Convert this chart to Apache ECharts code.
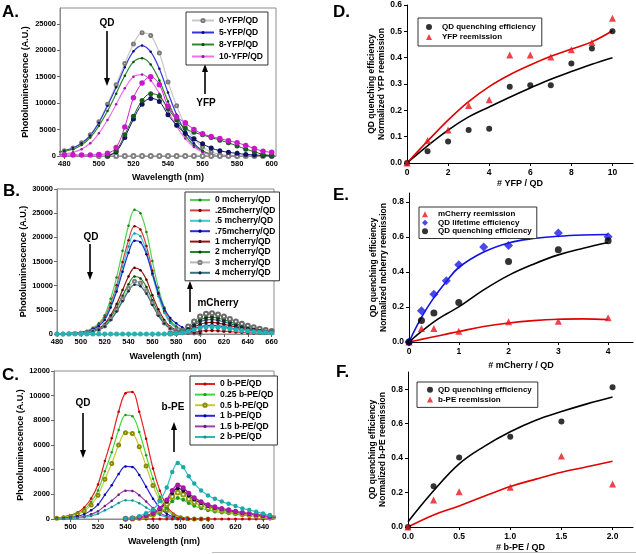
<!DOCTYPE html>
<html><head><meta charset="utf-8">
<script src="https://cdn.jsdelivr.net/npm/echarts@6/dist/echarts.min.js"></script>
<style>html,body{margin:0;padding:0;background:#fff}#c{width:636px;height:554px}</style>
</head><body><div id="c"></div>
<script>
// ---------- Panel A (YFP) ----------
const A_wl = [477,480,485,490,495,500,505,510,515,520,525,530,535,540,545,550,555,560,565,570,575,580,585,590,595,600];
const A_qd0 = [800,1000,1500,2500,4000,6500,9800,13500,17500,21200,23300,22800,19500,14000,9500,5800,3300,1700,800,300,100,0,null,null,null,null];
const A_qd5 = [800,1000,1500,2400,3900,6300,9500,13000,16800,19800,20900,19700,16500,12000,7800,4600,2400,1000,300,0,0,0,null,null,null,null];
const A_qd8 = [700,900,1300,2100,3500,5700,8500,11800,15200,17800,18500,17300,14300,10300,6700,3900,2000,900,300,0,0,0,null,null,null,null];
const A_qd10 = [300,400,700,1300,2400,4300,6800,9800,12800,15000,15400,14300,11800,8600,5600,3300,1700,700,200,0,0,0,null,null,null,null];
const A_yfp0 = [null,null,null,null,null,0,0,0,0,0,0,0,0,0,0,0,0,0,0,0,0,0,0,0,0,0];
const A_yfp5 = [null,null,null,null,null,null,0,800,3500,7000,9800,10900,10300,7800,5800,4300,3200,2300,1500,1000,700,500,300,200,100,0];
const A_yfp8 = [null,null,null,null,null,null,0,1000,4000,7500,10500,11800,11300,9000,6800,5200,4500,4000,3500,3000,2500,1900,1300,800,300,100];
const A_yfp10 = [300,200,200,200,200,300,500,1600,5500,11000,13800,15000,13500,9400,7400,6300,5000,4200,3700,3300,2900,2500,2000,1400,900,700];
const A_names = ['0-YFP/QD','5-YFP/QD','8-YFP/QD','10-YFP/QD'];
const A_xticks = [480,500,520,540,560,580,600];
const A_yticks = [0,5000,10000,15000,20000,25000];

// ---------- Panel B (mCherry) ----------
const B_wl = [480,485,490,495,500,505,510,515,520,525,530,535,540,545,550,555,560,565,570,575,580,585,590,595,600];
const B_q0 = [0,0,130,210,390,650,1300,2200,3900,7300,11700,17200,22400,25700,25000,21100,15100,9600,5500,2900,1600,1000,600,400,200];
const B_q25 = [0,0,110,180,340,560,1100,1900,3400,6300,10100,14900,19400,22300,21600,18200,13100,8300,4700,2500,1400,900,500,300,200];
const B_q50 = [0,0,100,170,320,530,1050,1800,3150,5900,9450,13900,18100,20800,20200,17000,12200,7800,4400,2300,1300,800,500,300,200];
const B_q75 = [0,0,100,160,290,490,980,1660,2900,5500,8800,12900,16800,19300,19000,16500,12500,8500,5300,3300,2200,1400,800,400,200];
const B_q1 = [0,0,70,110,210,350,690,1170,2070,3860,6210,9100,11900,13700,13200,11200,8000,5100,2900,1500,830,550,350,200,100];
const B_q2 = [0,0,60,100,180,300,600,1020,1800,3360,5400,7900,10300,11900,11500,9700,7000,4400,2500,1300,720,480,300,200,100];
const B_q3 = [0,0,55,90,165,275,550,935,1650,3080,4950,7260,9460,10900,10560,8900,6400,4070,2300,1200,660,440,300,200,100];
const B_q4 = [0,0,50,80,150,260,520,880,1550,2880,4640,6800,8860,10200,9900,8340,6000,3800,2160,1130,620,410,260,160,100];
const B_mwl = [575,580,585,590,595,600,605,610,615,620,625,630,635,640,645,650,655,660];
const B_m25 = [14,42,110,250,420,590,680,700,660,590,500,420,340,280,220,175,130,105];
const B_m75 = [36,110,290,650,1080,1510,1750,1800,1690,1510,1300,1080,880,720,580,450,340,270];
const B_m1 = [50,140,380,860,1440,2020,2330,2400,2260,2020,1730,1440,1180,960,770,600,460,360];
const B_m2 = [70,210,560,1260,2100,2940,3400,3500,3290,2940,2520,2100,1720,1400,1120,875,665,525];
const B_m3 = [90,260,690,1550,2580,3610,4170,4300,4040,3610,3100,2580,2110,1720,1380,1075,820,645];
const B_m4 = [60,180,480,1080,1800,2520,2910,3000,2820,2520,2160,1800,1470,1200,960,750,570,450];
const B_cwl = [480,485,490,495,500,505,510,515,520,525,530,535,540,545,550,555,560,565,570,575,580,585,590,595,600,605,610,615,620,625,630,635,640,645,650,655,660];
const B_m50 = [0,0,0,0,0,0,0,0,0,0,0,0,0,0,0,0,0,0,0,30,90,240,540,900,1260,1460,1500,1410,1260,1080,900,735,600,480,375,285,225];
const B_names = ['0 mcherry/QD','.25mcherry/QD','.5 mcherry/QD','.75mcherry/QD','1 mcherry/QD','2 mcherry/QD','3 mcherry/QD','4 mcherry/QD'];
const B_xticks = [480,500,520,540,560,580,600,620,640,660];
const B_yticks = [0,5000,10000,15000,20000,25000,30000];

// ---------- Panel C (b-PE) ----------
const C_wl = [490,495,500,505,510,515,520,525,530,535,540,545,550,555,560,565,570,575,580,585,590,595,600];
const C_q0 = [100,160,310,520,940,1660,2800,4700,6550,8700,10200,10300,8700,6500,4100,2300,1050,420,160,50,0,0,0];
const C_q025 = [85,130,260,430,770,1380,2320,3870,5420,7220,8430,8340,7050,5160,3270,1810,860,340,130,40,0,0,0];
const C_q05 = [70,110,210,360,640,1140,1930,3220,4500,6000,7000,6930,5860,4290,2720,1500,715,290,110,40,0,0,0];
const C_q1 = [45,65,130,220,390,700,1170,1960,2740,3650,4260,4220,3570,2610,1650,910,435,175,65,20,0,0,0];
const C_q15 = [25,35,70,120,210,380,630,1060,1480,1970,2300,2280,1930,1410,890,490,235,95,35,10,0,0,0];
const C_q2 = [15,25,45,80,140,250,420,700,980,1300,1520,1500,1270,930,590,330,155,60,25,10,0,0,0];
const C_pwl = [540,545,550,555,560,565,570,574,578,582,586,590,595,600,605,610,615,620,625,630,635,640,645,650];
const C_p0 = [0,0,0,0,0,0,0,0,0,0,0,0,0,0,0,0,0,0,0,0,0,0,0,0];
const C_p025 = [17,34,85,170,290,545,950,1430,1700,1560,1290,1070,870,715,610,530,460,390,325,270,220,170,120,85];
const C_p05 = [20,45,110,215,365,690,1200,1800,2150,1980,1630,1350,1100,900,775,665,580,495,410,345,280,215,150,110];
const C_p1 = [25,50,125,250,425,800,1400,2100,2500,2300,1900,1575,1275,1050,900,775,675,575,475,400,325,250,175,125];
const C_p15 = [30,55,140,275,470,880,1540,2310,2750,2530,2090,1730,1400,1160,990,850,740,630,520,440,360,275,190,140];
const C_p2 = [45,90,230,460,770,1460,2550,3820,4550,4190,3460,2870,2320,1910,1640,1410,1230,1050,860,730,590,455,320,230];
const C_names = ['0 b-PE/QD','0.25 b-PE/QD','0.5 b-PE/QD','1 b-PE/QD','1.5 b-PE/QD','2 b-PE/QD'];
const C_xticks = [500,520,540,560,580,600,620,640];
const C_yticks = [0,2000,4000,6000,8000,10000,12000];

// ---------- Panel D ----------
const D_x = [0,1,2,3,4,5,6,7,8,9,10];
const D_qd = [0,0.045,0.082,0.125,0.13,0.29,0.295,0.295,0.378,0.435,0.5];
const D_yfp = [0,0.085,0.125,0.218,0.24,0.41,0.41,0.403,0.43,0.458,0.55];
const D_fitQD = [0,0.065,0.125,0.175,0.213,0.25,0.285,0.318,0.347,0.375,0.40];
const D_fitYFP = [0,0.083,0.163,0.233,0.29,0.335,0.372,0.405,0.433,0.46,0.502];
const D_xticks = [0,2,4,6,8,10];
const D_yticks = [0,0.1,0.2,0.3,0.4,0.5,0.6];

// ---------- Panel E ----------
const E_xm = [0,0.25,0.5,1,2,3,4];
const E_m = [0,0.077,0.077,0.061,0.115,0.119,0.138];
const E_xl = [0,0.25,0.5,0.75,1,1.5,2,3,4];
const E_l = [0,0.178,0.272,0.35,0.44,0.542,0.551,0.622,0.601];
const E_xq = [0,0.25,0.5,1,2,3,4];
const E_q = [0,0.122,0.165,0.226,0.459,0.526,0.578];
const E_fitX = [0,0.25,0.5,0.75,1,1.5,2,2.5,3,3.5,4];
const E_fitL = [0,0.14,0.253,0.345,0.425,0.513,0.565,0.59,0.603,0.61,0.613];
const E_fitQ = [0,0.06,0.115,0.16,0.2,0.297,0.38,0.444,0.497,0.535,0.568];
const E_fitM = [0,0.015,0.03,0.045,0.06,0.088,0.108,0.122,0.13,0.132,0.128];
const E_xticks = [0,1,2,3,4];
const E_yticks = [0,0.2,0.4,0.6,0.8];

// ---------- Panel F ----------
const F_x = [0,0.25,0.5,1,1.5,2];
const F_q = [0,0.237,0.404,0.524,0.612,0.812];
const F_b = [0,0.157,0.204,0.231,0.412,0.249];
const F_fitX = [0,0.25,0.5,0.75,1,1.25,1.5,1.75,2];
const F_fitQ = [0.03,0.21,0.367,0.47,0.553,0.62,0.67,0.715,0.755];
const F_fitB = [0,0.07,0.122,0.18,0.235,0.278,0.318,0.35,0.382];
const F_xticks = [0,0.5,1,1.5,2];
const F_yticks = [0,0.2,0.4,0.6,0.8];

// ---------- build ----------
const FONT = 'Liberation Sans, Arial, sans-serif';
const pts = (xs, ys) => xs.map((x, i) => [x, ys[i]]);
const chart = echarts.init(document.getElementById('c'));

function spec(name, g, xs, ys, lc, sc, o) {
  o = o || {};
  return {
    name: name, type: 'line', xAxisIndex: g, yAxisIndex: g, data: pts(xs, ys),
    smooth: 0.35, symbol: o.symbol || 'circle', symbolSize: o.size || 2.5, showSymbol: true,
    connectNulls: false, lineStyle: { color: lc, width: o.lw || 1.2 },
    itemStyle: { color: sc }, z: o.z || 2, animation: false, silent: true
  };
}
function fit(g, xs, ys, c) {
  return { name: 'fit', type: 'line', xAxisIndex: g, yAxisIndex: g, data: pts(xs, ys), smooth: 0.4,
    symbol: 'none', lineStyle: { color: c, width: 1.6 }, z: 2, animation: false, silent: true };
}
function sc(name, g, xs, ys, sym, size, c) {
  return { name: name, type: 'scatter', xAxisIndex: g, yAxisIndex: g, data: pts(xs, ys),
    symbol: sym, symbolSize: size, itemStyle: { color: c }, z: 4, animation: false, silent: true };
}

const series = [
  // A
  spec(A_names[0], 0, A_wl, A_qd0, '#c8c8c8', '#7a7a7a', {symbol:'emptyCircle', size:3}),
  spec(A_names[1], 0, A_wl, A_qd5, '#3535e0', '#101070'),
  spec(A_names[2], 0, A_wl, A_qd8, '#2f8a2f', '#0c4a0c'),
  spec(A_names[3], 0, A_wl, A_qd10, '#f070f0', '#9a189a'),
  spec('yfp0', 0, A_wl, A_yfp0, '#b0b0b0', '#808080', {symbol:'emptyCircle', size:4, lw:1}),
  spec('yfp5', 0, A_wl, A_yfp5, '#101060', '#101060', {size:5, lw:1, z:3}),
  spec('yfp8', 0, A_wl, A_yfp8, '#1a5a1a', '#1a5a1a', {size:5, lw:1, z:3}),
  spec('yfp10', 0, A_wl, A_yfp10, '#d020d0', '#c818c8', {size:5.5, lw:1, z:3}),
  // B
  spec(B_names[0], 1, B_wl, B_q0, '#50d050', '#1e7a1e'),
  spec(B_names[1], 1, B_wl, B_q25, '#d84040', '#800000'),
  spec(B_names[2], 1, B_wl, B_q50, '#40c8c8', '#1a9a9a'),
  spec(B_names[3], 1, B_wl, B_q75, '#2030d8', '#000080'),
  spec(B_names[4], 1, B_wl, B_q1, '#9a1010', '#4a0000'),
  spec(B_names[5], 1, B_wl, B_q2, '#208a20', '#003c00'),
  spec(B_names[6], 1, B_wl, B_q3, '#b8b8b8', '#808080', {symbol:'emptyCircle', size:3}),
  spec(B_names[7], 1, B_wl, B_q4, '#3a7080', '#102838'),
  spec('m25', 1, B_mwl, B_m25, '#d84040', '#800000', {size:3.5}),
  spec('m75', 1, B_mwl, B_m75, '#2030d8', '#000080', {size:3.5}),
  spec('m1', 1, B_mwl, B_m1, '#9a1010', '#4a0000', {size:3.5}),
  spec('m2', 1, B_mwl, B_m2, '#208a20', '#003c00', {size:4}),
  spec('m3', 1, B_mwl, B_m3, '#a0a0a0', '#6a6a6a', {symbol:'emptyCircle', size:4}),
  spec('m4', 1, B_mwl, B_m4, '#3a7080', '#102838', {size:3.5}),
  spec('m50', 1, B_cwl, B_m50, '#40c8c8', '#20b4b4', {size:5, z:3}),
  // C
  spec(C_names[0], 2, C_wl, C_q0, '#e82020', '#b00000'),
  spec(C_names[1], 2, C_wl, C_q025, '#40d840', '#1a9a1a'),
  spec(C_names[2], 2, C_wl, C_q05, '#c8c830', '#8a8a00', {symbol:'emptyCircle', size:3}),
  spec(C_names[3], 2, C_wl, C_q1, '#2828e0', '#000090'),
  spec(C_names[4], 2, C_wl, C_q15, '#a040b0', '#6a1a7a'),
  spec(C_names[5], 2, C_wl, C_q2, '#30b8b8', '#1a8a8a'),
  spec('p0', 2, C_pwl, C_p0, '#e82020', '#c00000', {size:3}),
  spec('p025', 2, C_pwl, C_p025, '#40d840', '#1a9a1a', {size:4}),
  spec('p05', 2, C_pwl, C_p05, '#c8c830', '#9a9a10', {symbol:'emptyCircle', size:4}),
  spec('p1', 2, C_pwl, C_p1, '#202020', '#101030', {size:4}),
  spec('p15', 2, C_pwl, C_p15, '#c020c0', '#a818a8', {size:5, lw:1.5}),
  spec('p2', 2, C_pwl, C_p2, '#30c0c0', '#20a8a8', {size:4.5}),
  // D
  fit(3, D_x, D_fitQD, '#000000'),
  fit(3, D_x, D_fitYFP, '#e00000'),
  sc('QD quenching efficiency', 3, D_x, D_qd, 'circle', 6, '#000000'),
  sc('YFP reemission', 3, D_x, D_yfp, 'triangle', 7, '#e8141e'),
  // E
  fit(4, E_fitX, E_fitL, '#1010e0'),
  fit(4, E_fitX, E_fitQ, '#000000'),
  fit(4, E_fitX, E_fitM, '#e00000'),
  sc('mCherry reemission', 4, E_xm, E_m, 'triangle', 7, '#e8141e'),
  sc('QD lifetime efficiency', 4, E_xl, E_l, 'diamond', 9, '#1a1ae6'),
  sc('QD quenching efficiency', 4, E_xq, E_q, 'circle', 7, '#000000'),
  // F
  fit(5, F_fitX, F_fitQ, '#000000'),
  fit(5, F_fitX, F_fitB, '#e00000'),
  sc('QD quenching efficiency', 5, F_x, F_q, 'circle', 6, '#000000'),
  sc('b-PE reemission', 5, F_x, F_b, 'triangle', 7, '#e8141e')
];

const lab = { fontSize: 7.5, fontWeight: 'bold', color: '#000', fontFamily: FONT };
const nameSt = { fontSize: 9, fontWeight: 'bold', color: '#000', fontFamily: FONT };
function xAx(g, min, max, ticks, name, gap, boxed, fmt) {
  return { gridIndex: g, type: 'value', min: min, max: max, name: name, nameLocation: 'middle', nameGap: gap,
    nameTextStyle: nameSt,
    axisLine: { show: true, onZero: false, lineStyle: { color: boxed ? '#8c8c8c' : '#000', width: 1 } },
    axisTick: { show: true, customValues: ticks, length: 3, lineStyle: { color: boxed ? '#666' : '#000' } },
    axisLabel: Object.assign({ customValues: ticks, margin: boxed ? 4 : 5, formatter: fmt }, lab, boxed ? {} : {fontSize: 8.5}),
    splitLine: { show: false } };
}
function yAx(g, min, max, ticks, name, gap, boxed, fmt) {
  return { gridIndex: g, type: 'value', min: min, max: max, name: name, nameLocation: 'middle', nameGap: gap,
    nameRotate: 90, nameTextStyle: Object.assign({}, nameSt, boxed ? {} : {lineHeight: 10, fontSize: 8.5}),
    axisLine: { show: true, onZero: false, lineStyle: { color: boxed ? '#8c8c8c' : '#000', width: 1 } },
    axisTick: { show: true, customValues: ticks, length: 3, lineStyle: { color: boxed ? '#666' : '#000' } },
    axisLabel: Object.assign({ customValues: ticks, margin: boxed ? 4 : 5, formatter: fmt }, lab, boxed ? {} : {fontSize: 8.5}),
    splitLine: { show: false } };
}
const f1 = v => v.toFixed(1);
const fi = v => String(Math.round(v));

function legend(left, top, names, o) {
  return { left: left, top: top, orient: 'vertical', data: names, selectedMode: false,
    backgroundColor: '#fff', borderColor: '#333', borderWidth: 1, padding: o.padding,
    itemGap: o.gap, itemWidth: o.iw, itemHeight: o.ih,
    textStyle: { fontSize: o.fs, fontWeight: 'bold', color: '#000', fontFamily: FONT, lineHeight: o.lh, padding: [0,0,0,o.tp||0] } };
}

function arrow(x, y1, y2) {
  const dir = y2 > y1 ? 1 : -1;
  return [
    { type: 'line', shape: { x1: x, y1: y1, x2: x, y2: y2 - dir * 6 }, style: { stroke: '#000', lineWidth: 1.6 }, silent: true },
    { type: 'polygon', shape: { points: [[x - 3, y2 - dir * 8], [x + 3, y2 - dir * 8], [x, y2]] }, style: { fill: '#000' }, silent: true }
  ];
}
function txt(x, y, t, size) {
  return { type: 'text', x: x, y: y, silent: true,
    style: { text: t, font: 'bold ' + size + 'px ' + FONT, fill: '#000', align: 'center', verticalAlign: 'middle', textAlign: 'center', textVerticalAlign: 'middle' } };
}
function letter(x, y, t) {
  return { type: 'text', x: x, y: y, silent: true,
    style: { text: t, font: 'bold 17px ' + FONT, fill: '#000', align: 'left', verticalAlign: 'middle', textAlign: 'left', textVerticalAlign: 'middle' } };
}

const option = {
  animation: false,
  backgroundColor: '#fff',
  grid: [
    { left: 60, top: 8, width: 216, height: 148, show: true, borderColor: '#8c8c8c', borderWidth: 1, backgroundColor: 'transparent' },
    { left: 57, top: 189, width: 217, height: 145, show: true, borderColor: '#8c8c8c', borderWidth: 1, backgroundColor: 'transparent' },
    { left: 54, top: 371, width: 220, height: 148, show: true, borderColor: '#8c8c8c', borderWidth: 1, backgroundColor: 'transparent' },
    { left: 407, top: 5, width: 226, height: 158 },
    { left: 409, top: 193, width: 224, height: 149 },
    { left: 408, top: 372, width: 225, height: 155 }
  ],
  xAxis: [
    xAx(0, 477.5, 602.5, A_xticks, 'Wavelength (nm)', 17, true, fi),
    xAx(1, 480, 662, B_xticks, 'Wavelength (nm)', 18, true, fi),
    xAx(2, 488, 648, C_xticks, 'Wavelength (nm)', 18, true, fi),
    xAx(3, 0, 11, D_xticks, '# YFP / QD', 16, false, fi),
    xAx(4, 0, 4.5, E_xticks, '# mCherry / QD', 19, false, fi),
    xAx(5, 0, 2.2, F_xticks, '# b-PE / QD', 16, false, f1)
  ],
  yAxis: [
    yAx(0, 0, 28000, A_yticks, 'Photoluminescence (A.U.)', 30, true, fi),
    yAx(1, 0, 30000, B_yticks, 'Photoluminescence (A.U.)', 29, true, fi),
    yAx(2, 0, 12000, C_yticks, 'Photoluminescence (A.U.)', 29, true, fi),
    yAx(3, 0, 0.6, D_yticks, 'QD quenching efficiency\nNormalized YFP reemission', 19, false, f1),
    yAx(4, 0, 0.85, E_yticks, 'QD quenching efficiency\nNormalized mcherry reemission', 20, false, f1),
    yAx(5, 0, 0.9, F_yticks, 'QD quenching efficiency\nNormalized b-PE reemission', 20, false, f1)
  ],
  legend: [
    legend(186, 12, A_names, { padding: [3,5,3,5], gap: 1, iw: 22, ih: 4, fs: 8.5, lh: 11 }),
    legend(185, 192, B_names, { padding: [3,4,3,4], gap: 0.4, iw: 20, ih: 4, fs: 8.5, lh: 10 }),
    legend(190, 376, C_names, { padding: [3,4,3,4], gap: 0.6, iw: 20, ih: 4, fs: 8.5, lh: 10 }),
    legend(418, 18, ['QD quenching efficiency', 'YFP reemission'], { padding: [4,6,4,8], gap: 0, iw: 6, ih: 6, fs: 8, lh: 10, tp: 5 }),
    legend(419, 207, ['mCherry reemission', 'QD lifetime efficiency', 'QD quenching efficiency'], { padding: [3,5,3,3], gap: 0, iw: 6, ih: 6, fs: 8, lh: 8.5, tp: 5 }),
    legend(417, 382, ['QD quenching efficiency', 'b-PE reemission'], { padding: [3,6,3,10], gap: 0, iw: 6, ih: 6, fs: 8, lh: 9.7, tp: 0 })
  ],
  series: series,
  graphic: [
    letter(2, 12, 'A.'), letter(3, 191, 'B.'), letter(2, 375, 'C.'),
    letter(333, 12, 'D.'), letter(333, 195, 'E.'), letter(336, 372, 'F.'),
    txt(107, 23, 'QD', 10), ...arrow(107, 31, 86),
    txt(206, 103, 'YFP', 10), ...arrow(205, 94, 64),
    txt(91, 237, 'QD', 10), ...arrow(90, 244, 280),
    txt(218, 303, 'mCherry', 10), ...arrow(190, 312, 281),
    txt(83, 403, 'QD', 10), ...arrow(83, 413, 458),
    txt(173, 407, 'b-PE', 10), ...arrow(174, 452, 422),
    { type: 'line', shape: { x1: 212, y1: 552.5, x2: 636, y2: 552.5 }, style: { stroke: '#bdbdbd', lineWidth: 1 }, silent: true }
  ]
};
chart.setOption(option);
</script>
</body></html>
